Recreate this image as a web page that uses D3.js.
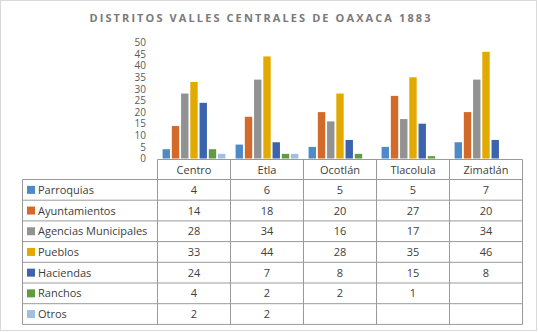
<!DOCTYPE html>
<html>
<head>
<meta charset="utf-8">
<script src="https://cdn.jsdelivr.net/npm/d3@7"></script>
<style>
  body { margin: 0; background: #fff; }
  text { font-family: "Open Sans", "Liberation Sans", sans-serif; }
</style>
</head>
<body>
<div id="chart"></div>
<script>
// data
var districts = ["Centro", "Etla", "Ocotlán", "Tlacolula", "Zimatlán"];
var seriesNames = ["Parroquias", "Ayuntamientos", "Agencias Municipales", "Pueblos", "Haciendas", "Ranchos", "Otros"];
var parroquias = [4, 6, 5, 5, 7];
var ayuntamientos = [14, 18, 20, 27, 20];
var agencias = [28, 34, 16, 17, 34];
var pueblos = [33, 44, 28, 35, 46];
var haciendas = [24, 7, 8, 15, 8];
var ranchos = [4, 2, 2, 1, null];
var otros = [2, 2, null, null, null];
var yTicks = [0, 5, 10, 15, 20, 25, 30, 35, 40, 45, 50];
var colors = ["#4e8ac6", "#d46a2a", "#929292", "#e2aa00", "#3c64ad", "#619b40", "#a0bfe4"];

var series = [parroquias, ayuntamientos, agencias, pueblos, haciendas, ranchos, otros];

var W = 538, H = 332;
var svg = d3.select("#chart").append("svg")
  .attr("width", W).attr("height", H);

// outer border
svg.append("rect")
  .attr("x", 0.5).attr("y", 0.5)
  .attr("width", W - 2).attr("height", H - 2)
  .attr("fill", "#fff").attr("stroke", "#d9d9d9");

// title
svg.append("text")
  .attr("x", 261).attr("y", 22)
  .attr("text-anchor", "middle")
  .attr("fill", "#7a7a7a")
  .style("font-size", "11px")
  .style("font-weight", "bold")
  .style("letter-spacing", "2.1px")
  .text("DISTRITOS VALLES CENTRALES DE OAXACA 1883");

// scales
var x = d3.scaleBand().domain(districts).range([157.5, 522.5]);
var xInner = d3.scaleBand().domain(d3.range(seriesNames.length))
  .range([0, x.bandwidth()]).paddingInner(0.2).paddingOuter(0.55);
var y = d3.scaleLinear().domain([0, 50]).range([158.5, 42.5]);

// y axis (labels only)
var yAxis = svg.append("g")
  .attr("transform", "translate(146,0)")
  .call(d3.axisLeft(y).tickValues(yTicks).tickSize(0).tickPadding(0));
yAxis.select(".domain").remove();
yAxis.selectAll("text")
  .attr("fill", "#595959")
  .style("font-size", "10px")
  .style("font-family", "'Open Sans', 'Liberation Sans', sans-serif");

// bars
series.forEach(function (vals, si) {
  svg.append("g").selectAll("rect")
    .data(districts.map(function (d, i) { return { d: d, v: vals[i] }; })
      .filter(function (o) { return o.v != null; }))
    .join("rect")
    .attr("x", function (o) { return x(o.d) + xInner(si); })
    .attr("width", xInner.bandwidth())
    .attr("y", function (o) { return y(o.v); })
    .attr("height", function (o) { return y(0) - y(o.v); })
    .attr("fill", colors[si]);
});

// data table
var rowTop = 159.5, headH = 20, rowH = 20.7;
var tableLeft = 22.5, right = 522.5;
var lineColor = "#9a9a9a";
var tbl = svg.append("g");
var rowY = function (i) { return rowTop + headH + i * rowH; };
var bottom = rowY(seriesNames.length);

// horizontal lines
tbl.append("line").attr("x1", x.range()[0]).attr("x2", right)
  .attr("y1", rowTop).attr("y2", rowTop).attr("stroke", lineColor);
d3.range(seriesNames.length + 1).forEach(function (i) {
  tbl.append("line").attr("x1", tableLeft).attr("x2", right)
    .attr("y1", rowY(i)).attr("y2", rowY(i)).attr("stroke", lineColor);
});
// vertical lines
tbl.append("line").attr("x1", tableLeft).attr("x2", tableLeft)
  .attr("y1", rowY(0)).attr("y2", bottom).attr("stroke", lineColor);
districts.concat([null]).forEach(function (d) {
  var xx = d == null ? right : x(d);
  tbl.append("line").attr("x1", xx).attr("x2", xx)
    .attr("y1", rowTop).attr("y2", bottom).attr("stroke", lineColor);
});

// header labels
tbl.selectAll(".head").data(districts).join("text")
  .attr("x", function (d) { return x(d) + x.bandwidth() / 2; })
  .attr("y", rowTop + headH / 2 + 4)
  .attr("text-anchor", "middle")
  .attr("fill", "#404040")
  .style("font-size", "11px")
  .text(function (d) { return d; });

// rows: legend key, name, values
seriesNames.forEach(function (name, si) {
  var cy = rowY(si) + rowH / 2;
  tbl.append("rect")
    .attr("x", 27).attr("y", cy - 4)
    .attr("width", 8).attr("height", 8)
    .attr("fill", colors[si]);
  tbl.append("text")
    .attr("x", 38).attr("y", cy + 4)
    .attr("fill", "#404040")
    .style("font-size", "11px")
    .text(name);
  series[si].forEach(function (v, i) {
    if (v == null) return;
    tbl.append("text")
      .attr("x", x(districts[i]) + x.bandwidth() / 2)
      .attr("y", cy + 4)
      .attr("text-anchor", "middle")
      .attr("fill", "#404040")
      .style("font-size", "11px")
      .text(v);
  });
});
</script>
</body>
</html>
